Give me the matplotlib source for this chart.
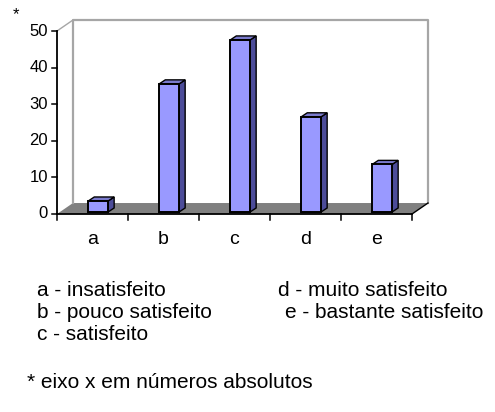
import matplotlib
matplotlib.use('Agg')
import matplotlib.pyplot as plt
from matplotlib.patches import Polygon

plt.rcParams['font.family'] = ['Liberation Sans', 'DejaVu Sans']

categories = ['a', 'b', 'c', 'd', 'e']
values = [3, 35, 47, 26, 13]
yticks = [0, 10, 20, 30, 40, 50]
legend_left = ['a - insatisfeito', 'b - pouco satisfeito', 'c - satisfeito']
legend_right = ['d - muito satisfeito', 'e - bastante satisfeito']
footnote = '* eixo x em números absolutos'

W, H = 495, 412
fig = plt.figure(figsize=(W / 100, H / 100), dpi=100)
ax = fig.add_axes([57 / W, 1 - 214 / H, (412 - 57) / W, (214 - 31) / H])
ax.set_xlim(-0.5, len(categories) - 0.5)
ax.set_ylim(0, 50)
ax.axis('off')

# depth of the floor / back wall (data units)
dx, dy = 0.225, 3.0
x0, x1 = -0.5, len(categories) - 0.5

# floor
ax.add_patch(Polygon([(x0, 0), (x1, 0), (x1 + dx, dy), (x0 + dx, dy)],
                     closed=True, fc='#808080', ec='none', clip_on=False, zorder=1))
# back wall outline
ax.plot([x0 + dx, x0 + dx, x1 + dx, x1 + dx], [dy, 50 + dy, 50 + dy, dy],
        color='#a6a6a6', lw=1.6, clip_on=False, zorder=1)
ax.plot([x0, x0 + dx], [50, 50 + dy], color='#a6a6a6', lw=1.0, clip_on=False, zorder=1)
# right floor edge
ax.plot([x1, x1 + dx], [0, dy], color='black', lw=1.0, clip_on=False, zorder=2)

# bars (front face + side + top)
bx, bw, bb = 0.08, 0.28, 0.55
bdx, bdy = 0.085, 1.1
for i, v in enumerate(values):
    l = i + bx - bw / 2
    r = i + bx + bw / 2
    top = v + bb
    ax.add_patch(Polygon([(r, bb), (r + bdx, bb + bdy), (r + bdx, top + bdy), (r, top)],
                         closed=True, fc='#4c4c99', ec='black', lw=1.0, zorder=3, clip_on=False))
    ax.add_patch(Polygon([(l, top), (r, top), (r + bdx, top + bdy), (l + bdx, top + bdy)],
                         closed=True, fc='#7a7acc', ec='black', lw=1.0, zorder=3, clip_on=False))
ax.bar([i + bx for i in range(len(values))], values, width=bw, bottom=bb,
       color='#9999ff', edgecolor='black', linewidth=1.4, zorder=4, clip_on=False)

# axes lines and ticks
ax.plot([x0, x0], [0, 50], color='black', lw=1.3, clip_on=False, zorder=5)
ax.plot([x0, x1], [0, 0], color='black', lw=1.3, clip_on=False, zorder=5)
for t in yticks:
    ax.plot([x0 - 0.07, x0], [t, t], color='black', lw=1.1, clip_on=False, zorder=5)
    ax.annotate(str(t), xy=(x0, t), xytext=(-9, 0), textcoords='offset pixels',
                ha='right', va='center', fontsize=12, annotation_clip=False)
for k in range(len(categories) + 1):
    ax.plot([x0 + k, x0 + k], [0, -1.6], color='black', lw=1.1, clip_on=False, zorder=5)
for i, c in enumerate(categories):
    ax.annotate(c, xy=(i, 0), xytext=(0, -26), textcoords='offset pixels',
                ha='center', va='center', fontsize=14, annotation_clip=False)

fig.text(13 / W, 1 - 15 / H, '*', fontsize=12, ha='left', va='center')
for k, s in enumerate(legend_left):
    fig.text(37 / W, 1 - (291 + 22 * k) / H, s, fontsize=15, ha='left', va='center')
fig.text(278 / W, 1 - 291 / H, legend_right[0], fontsize=15, ha='left', va='center')
fig.text(285 / W, 1 - 313 / H, legend_right[1], fontsize=15, ha='left', va='center')
fig.text(27 / W, 1 - 383 / H, footnote, fontsize=15, ha='left', va='center')

fig.savefig('out.png', dpi=100)
